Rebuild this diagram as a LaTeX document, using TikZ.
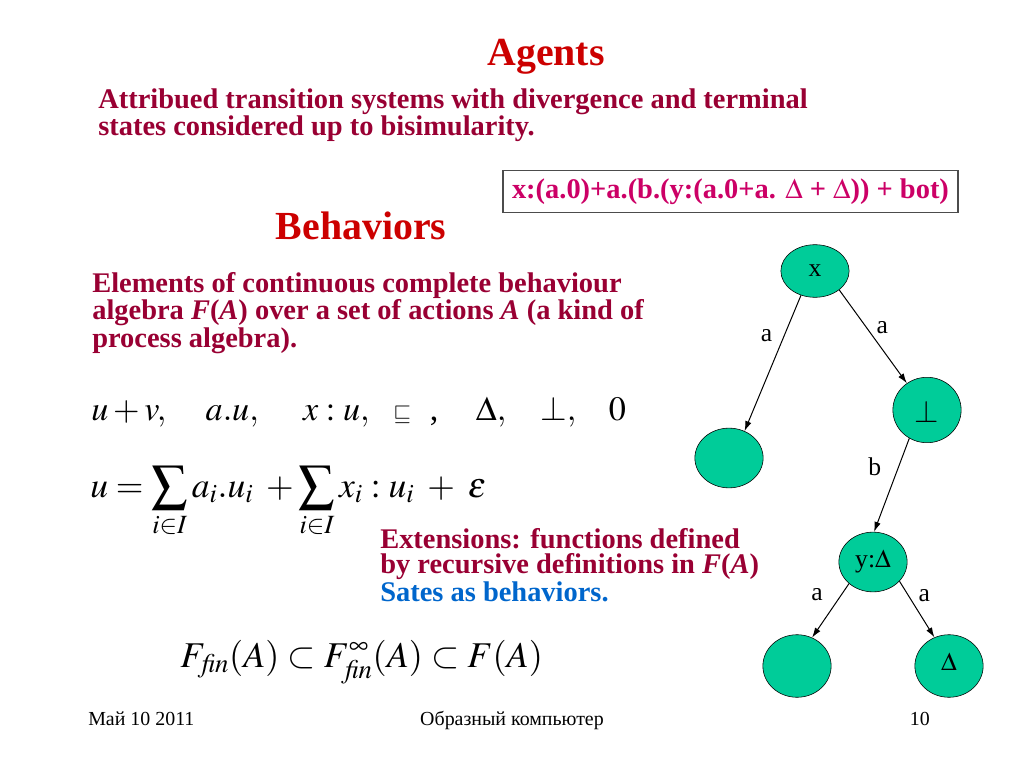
\documentclass[tikz,border=0pt]{standalone}
\usepackage{mathptmx}
\usepackage{fontspec}
\setmainfont{Liberation Serif}
\usetikzlibrary{arrows.meta, shapes.geometric}
\definecolor{titlered}{RGB}{204,0,0}
\definecolor{bodyred}{RGB}{153,0,51}
\definecolor{boxpink}{RGB}{204,0,102}
\definecolor{stateblue}{RGB}{0,102,204}
\definecolor{stategreen}{RGB}{0,204,153}
\tikzset{
    >={Latex[length=7pt, width=4.5pt]},
    heading/.style={font=\fontsize{28}{30}\selectfont\bfseries, text=titlered, inner sep=0pt},
    body/.style={font=\fontsize{20}{17.9}\selectfont\bfseries, text=bodyred, align=left, inner sep=0pt},
    formula/.style={font=\fontsize{24}{28}\selectfont, inner sep=0pt},
    footer/.style={font=\fontsize{14}{16}\selectfont, inner sep=0pt},
    state/.style={ellipse, draw, fill=stategreen, minimum width=48pt, minimum height=42pt,
        inner sep=0pt, font=\fontsize{18}{20}\selectfont},
    trans/.style={->, line width=0.7pt},
    act/.style={font=\fontsize{18}{20}\selectfont, inner sep=0pt}
}
\begin{document}
\begin{tikzpicture}[x=0.703125pt, y=-0.703125pt]
\useasboundingbox (0,0) rectangle (1024,768);

% titles (multi-line nodes sit on their last line)
\node[heading, anchor=base] (agents) at (546,66) {Agents};
\node[body, anchor=base west] (ats) at (98,136)
    {Attribued transition systems with divergence and terminal\\states considered up to bisimularity.};
\node[draw=black!70, line width=0.9pt, minimum width=320pt, minimum height=30pt, inner sep=0pt,
    font=\fontsize{20}{22}\selectfont\bfseries, text=boxpink] (expr) at (730.5,191.5)
    {x:(a.0)+a.(b.(y:(a.0+a. $\Delta$ + $\Delta$)) + bot)};
\node[heading, anchor=base] (behav) at (361,240) {Behaviors};
\node[body, anchor=base west] (elem) at (92,347)
    {Elements of continuous complete behaviour\\algebra \textit{F}(\textit{A}) over a set of actions \textit{A} (a kind of\\process algebra).};

% formulas
\node[formula, anchor=base west] (ops) at (91,420)
    {$u+v,$\hspace{1.15em}$a.u,$\hspace{1.3em}$x:u,$\hspace{0.7em}{\fontsize{16}{16}\selectfont$\sqsubseteq$}\hspace{0.55em},\hspace{1.1em}$\Delta,$\hspace{1em}$\perp,$\hspace{0.95em}$0$};
\node[formula, font=\fontsize{25}{28}\selectfont, anchor=base west] (sums) at (90,497)
    {$\displaystyle u=\sum_{i\in I}a_i.u_i\;+\sum_{i\in I}x_i:u_i\;+\;\varepsilon$};
\node[body, anchor=base west] (ext) at (380,601)
    {Extensions: functions defined\\by recursive definitions in \textit{F}(\textit{A})\\\textcolor{stateblue}{Sates as behaviors.}};
\node[formula, font=\fontsize{25.5}{30}\selectfont, anchor=base west] (chain) at (180,667)
    {$F_{\hspace{2pt}\mathit{fin}}(A)\subset F^{\infty}_{\hspace{2pt}\mathit{fin}}(A)\subset F(A)$};

% tree
\node[state, minimum height=37pt] (x) at (815,271) {x};
\node[state, minimum height=46pt] (bot) at (927,410) {\raisebox{-9pt}[0pt][0pt]{\fontsize{22}{22}\selectfont$\perp$}};
\node[state] (leafa) at (729,458) {};
\node[state] (y) at (873,562) {y:$\Delta$};
\node[state, minimum height=44pt] (leafb) at (797,666) {};
\node[state, minimum height=44pt] (delta) at (949,666) {\raisebox{-3pt}[0pt][0pt]{$\Delta$}};

\draw[trans] (x.240) -- node[act, pos=.3, left=8pt] {a} (leafa.60);
\draw[trans] (x.322) -- node[act, pos=.4, right=7pt] {a} (bot.127);
\draw[trans] (bot.238) -- node[act, pos=.3, left=12pt] {b} (y.88);
\draw[trans] (y.222) -- node[act, pos=.2, left=13pt] {a} (leafb.62);
\draw[trans] (y.324) -- node[act, pos=.25, right=7pt] {a} (delta.117);

% footer
\node[footer, anchor=base west] (date) at (88,725) {Май 10 2011};
\node[footer, anchor=base] (title) at (512,725) {Образный компьютер};
\node[footer, anchor=base east] (page) at (930,725) {10};
\end{tikzpicture}
\end{document}
